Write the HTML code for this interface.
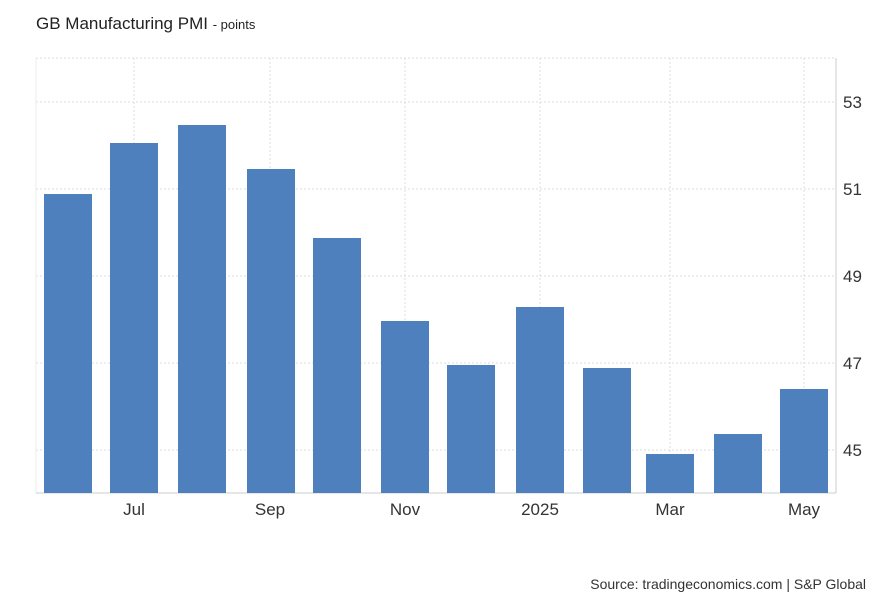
<!DOCTYPE html>
<html><head><style>body{margin:0;background:#fff;}</style></head><body>
<svg width="882" height="603" xmlns="http://www.w3.org/2000/svg" font-family="Liberation Sans, sans-serif">
<rect width="882" height="603" fill="#fff"/>
<text x="36" y="29" font-size="17" fill="#222">GB Manufacturing PMI <tspan font-size="13">- points</tspan></text>
<g stroke="#ddd" stroke-dasharray="2,2" stroke-width="1">
<line x1="36" y1="58" x2="836" y2="58"/>
<line x1="36" y1="102" x2="836" y2="102"/>
<line x1="36" y1="189" x2="836" y2="189"/>
<line x1="36" y1="276" x2="836" y2="276"/>
<line x1="36" y1="363" x2="836" y2="363"/>
<line x1="36" y1="450" x2="836" y2="450"/>
<line x1="134" y1="58" x2="134" y2="493"/>
<line x1="270" y1="58" x2="270" y2="493"/>
<line x1="405" y1="58" x2="405" y2="493"/>
<line x1="540" y1="58" x2="540" y2="493"/>
<line x1="670" y1="58" x2="670" y2="493"/>
<line x1="804" y1="58" x2="804" y2="493"/>
</g>
<line x1="36" y1="58" x2="36" y2="493" stroke="#eee"/>
<line x1="836" y1="58" x2="836" y2="493" stroke="#ccc"/>
<line x1="36" y1="493" x2="836" y2="493" stroke="#ccc"/>
<g fill="#4e80be">
<rect x="44" y="194" width="48" height="299"/>
<rect x="110" y="143" width="48" height="350"/>
<rect x="178" y="125" width="48" height="368"/>
<rect x="247" y="169" width="48" height="324"/>
<rect x="313" y="238" width="48" height="255"/>
<rect x="381" y="321" width="48" height="172"/>
<rect x="447" y="365" width="48" height="128"/>
<rect x="516" y="307" width="48" height="186"/>
<rect x="583" y="368" width="48" height="125"/>
<rect x="646" y="454" width="48" height="39"/>
<rect x="714" y="434" width="48" height="59"/>
<rect x="780" y="389" width="48" height="104"/>
</g>
<g font-size="17" fill="#333">
<text x="843" y="108">53</text>
<text x="843" y="195">51</text>
<text x="843" y="282">49</text>
<text x="843" y="369">47</text>
<text x="843" y="456">45</text>
</g>
<g font-size="17" fill="#333" text-anchor="middle">
<text x="134" y="515">Jul</text>
<text x="270" y="515">Sep</text>
<text x="405" y="515">Nov</text>
<text x="540" y="515">2025</text>
<text x="670" y="515">Mar</text>
<text x="804" y="515">May</text>
</g>
<text x="866" y="589" font-size="14" fill="#333" text-anchor="end">Source: tradingeconomics.com | S&amp;P Global</text>
</svg>
</body></html>
